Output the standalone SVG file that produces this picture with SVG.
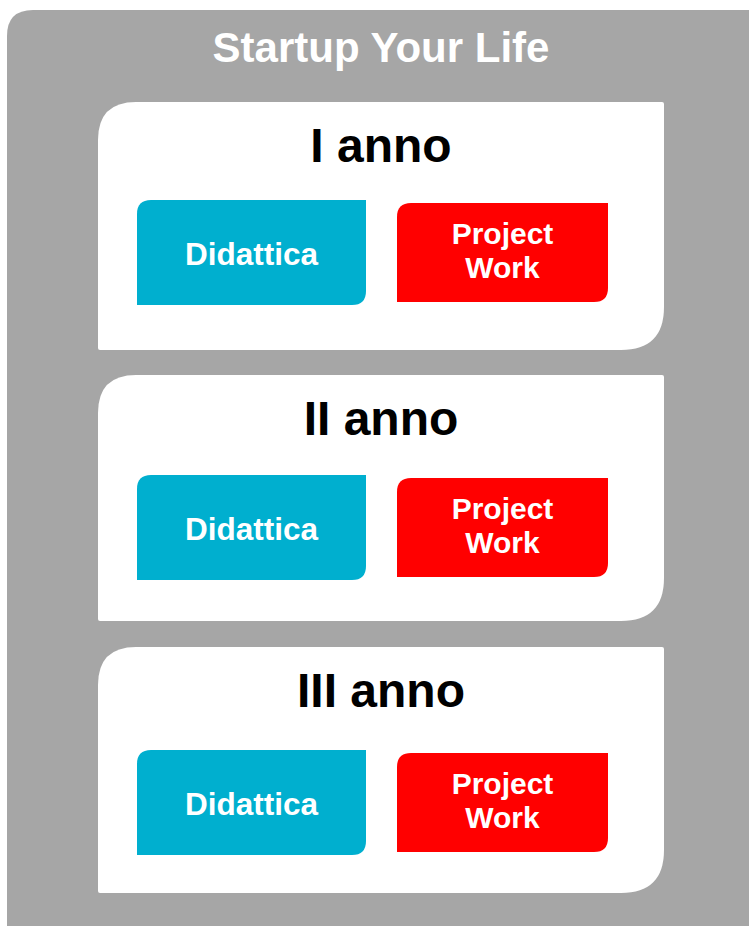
<svg xmlns="http://www.w3.org/2000/svg" width="749" height="926" viewBox="0 0 749 926">
<style>
text{font-family:"Liberation Sans",Arial,sans-serif;font-weight:bold;text-anchor:middle}
.title{fill:#fff;font-size:42px}
.year{fill:#000;font-size:48px}
.lbl{fill:#fff;font-size:31.5px}
.pwl{fill:#fff;font-size:30px}
.panel{fill:#fff}
.did{fill:#00AFCF}
.pw{fill:#FF0000}
</style>
<rect width="749" height="926" fill="#fff"/>
<g id="container">
<path d="M7,36 Q7,10 33,10 L749,10 L749,926 L7,926 Z" fill="#A6A6A6"/>
<text class="title" x="381" y="62">Startup Your Life</text>
</g>
<g id="year1">
<path class="panel" d="M98,140 Q98,102 136,102 L662,102 Q664,102 664,104 L664,307 Q664,350 621,350 L100,350 Q98,350 98,348 Z"/>
<text class="year" x="381" y="162">I anno</text>
<g id="didattica1"><path class="did" d="M137,214 Q137,200 151,200 L366,200 L366,291 Q366,305 352,305 L137,305 Z"/><text class="lbl" x="251.5" y="265">Didattica</text></g>
<g id="project1"><path class="pw" d="M397,217 Q397,203 411,203 L608,203 L608,288 Q608,302 594,302 L397,302 Z"/><text class="pwl" x="502.5" y="243.5">Project</text><text class="pwl" x="502.5" y="278">Work</text></g>
</g>
<g id="year2">
<path class="panel" d="M98,413 Q98,375 136,375 L662,375 Q664,375 664,377 L664,578 Q664,621 621,621 L100,621 Q98,621 98,619 Z"/>
<text class="year" x="381" y="435">II anno</text>
<g id="didattica2"><path class="did" d="M137,489 Q137,475 151,475 L366,475 L366,566 Q366,580 352,580 L137,580 Z"/><text class="lbl" x="251.5" y="540">Didattica</text></g>
<g id="project2"><path class="pw" d="M397,492 Q397,478 411,478 L608,478 L608,563 Q608,577 594,577 L397,577 Z"/><text class="pwl" x="502.5" y="518.5">Project</text><text class="pwl" x="502.5" y="553">Work</text></g>
</g>
<g id="year3">
<path class="panel" d="M98,685 Q98,647 136,647 L662,647 Q664,647 664,649 L664,850 Q664,893 621,893 L100,893 Q98,893 98,891 Z"/>
<text class="year" x="381" y="707">III anno</text>
<g id="didattica3"><path class="did" d="M137,764 Q137,750 151,750 L366,750 L366,841 Q366,855 352,855 L137,855 Z"/><text class="lbl" x="251.5" y="815">Didattica</text></g>
<g id="project3"><path class="pw" d="M397,767 Q397,753 411,753 L608,753 L608,838 Q608,852 594,852 L397,852 Z"/><text class="pwl" x="502.5" y="793.5">Project</text><text class="pwl" x="502.5" y="828">Work</text></g>
</g>
</svg>
